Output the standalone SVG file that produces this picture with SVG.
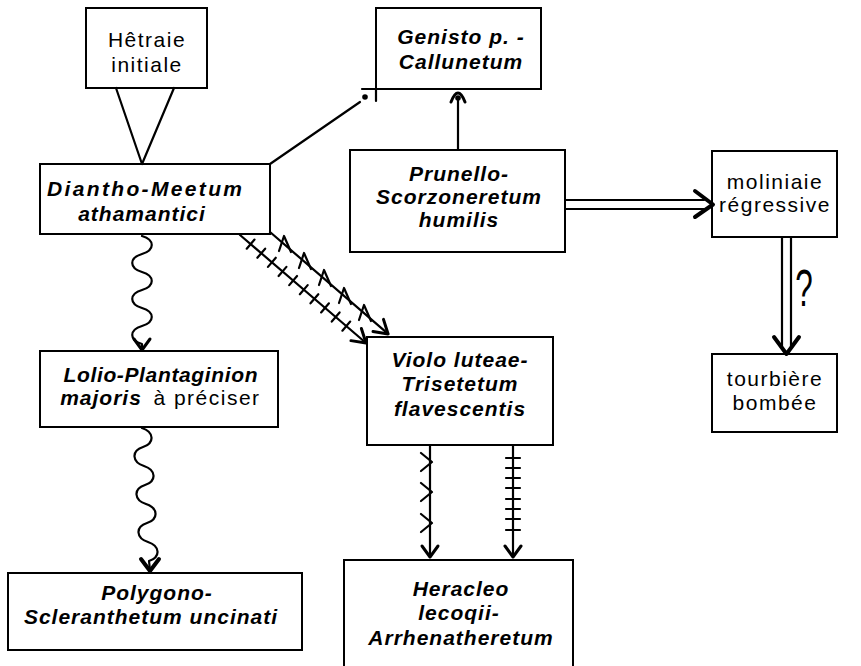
<svg xmlns="http://www.w3.org/2000/svg" width="861" height="666" viewBox="0 0 861 666">
<style>
.box{fill:#fff;stroke:#000;stroke-width:2}
.ln{fill:none;stroke:#000;stroke-width:2.2;stroke-linecap:round;stroke-linejoin:round}
.hd{fill:none;stroke:#000;stroke-width:3;stroke-linecap:round;stroke-linejoin:round}
.hv{fill:none;stroke:#000;stroke-width:4;stroke-linecap:round;stroke-linejoin:round}
.t{font-family:"Liberation Sans",Arial,sans-serif;fill:#000;text-anchor:middle}
.bi{font-size:21px;font-weight:bold;font-style:italic;letter-spacing:1px}
.n{font-size:21px;letter-spacing:1.5px}
</style>
<defs>
<path id="amark" d="M-7,5 L-2,-10 L5,6" class="ln"/>
</defs>
<rect width="861" height="666" fill="#fff"/>

<g id="hetraie">
<rect class="box" x="86" y="8" width="121" height="80"/>
<text class="t n" x="147" y="47">Hêtraie</text>
<text class="t n" x="147" y="72">initiale</text>
</g>

<g id="genisto">
<rect class="box" x="376" y="8" width="165" height="81"/>
<text class="t bi" x="461" y="44">Genisto p. -</text>
<text class="t bi" x="461" y="69">Callunetum</text>
</g>

<g id="diantho">
<rect class="box" x="40" y="164" width="230" height="70"/>
<text class="t bi" x="145" y="196" textLength="196" lengthAdjust="spacing">Diantho-Meetum</text>
<text class="t bi" x="142" y="221">athamantici</text>
</g>

<g id="prunello">
<rect class="box" x="350" y="150" width="215" height="102"/>
<text class="t bi" x="459" y="181">Prunello-</text>
<text class="t bi" x="459" y="204">Scorzoneretum</text>
<text class="t bi" x="459" y="227">humilis</text>
</g>

<g id="moliniaie">
<rect class="box" x="712" y="151" width="125" height="86"/>
<text class="t n" x="775" y="189">moliniaie</text>
<text class="t n" x="775" y="212">régressive</text>
</g>

<g id="lolio">
<rect class="box" x="40" y="351" width="238" height="76"/>
<text class="t bi" x="161" y="382" textLength="195" lengthAdjust="spacing">Lolio-Plantaginion</text>
<text class="t bi" x="101" y="405">majoris</text>
<text class="t n" x="207" y="405">à préciser</text>
</g>

<g id="violo">
<rect class="box" x="367" y="337" width="186" height="108"/>
<text class="t bi" x="460" y="367">Violo luteae-</text>
<text class="t bi" x="460" y="391">Trisetetum</text>
<text class="t bi" x="460" y="416">flavescentis</text>
</g>

<g id="tourbiere">
<rect class="box" x="712" y="354" width="125" height="78"/>
<text class="t n" x="775" y="386">tourbière</text>
<text class="t n" x="775" y="410">bombée</text>
</g>

<g id="polygono">
<rect class="box" x="8" y="573" width="294" height="77"/>
<text class="t bi" x="157" y="600">Polygono-</text>
<text class="t bi" x="151" y="624">Scleranthetum uncinati</text>
</g>

<g id="heracleo">
<rect class="box" x="344" y="560" width="229" height="120"/>
<text class="t bi" x="461" y="596">Heracleo</text>
<text class="t bi" x="459" y="620">lecoqii-</text>
<text class="t bi" x="461" y="645">Arrhenatheretum</text>
</g>

<g id="connectors">
<!-- Hetraie to Diantho -->
<path class="ln" d="M116,88 L142,164 M174,88 L142,164"/>
<!-- Diantho to Genisto -->
<path class="ln" d="M270,164 L360,102"/>
<circle cx="365" cy="97" r="2.8" fill="#000"/>
<path class="ln" d="M362,89 L376,89 M376,89 L376,101"/>
<!-- Prunello to Genisto -->
<path class="ln" d="M458,150 L458,98"/>
<circle cx="458" cy="98" r="2.8" fill="#000"/>
<path class="hd" d="M451,102 Q458,84 465,102"/>
<!-- Prunello to moliniaie -->
<path class="ln" d="M565,200 L704,200 M565,209 L704,209"/>
<path class="hv" d="M695,191 L713,204.5 L695,217"/>
<!-- moliniaie to tourbiere -->
<path class="ln" d="M782,237 L782,346 M791,237 L791,346"/>
<path class="hv" d="M774,337 L786.5,354 L799,337"/>
<text class="t" transform="translate(804,306) scale(0.75,1.25)" style="font-size:42px">?</text>
<!-- Diantho to Lolio (wavy) -->
<path class="ln" d="M142,236 c 13,4 13,14 0,18 s -13,14 0,18 s 13,14 0,18 s -13,14 0,18 s 13,14 0,18 s -13,14 0,18 L142,349"/>
<path class="hd" d="M134,339 L142,350 L150,339"/>
<!-- Lolio to Polygono (wavy) -->
<path class="ln" d="M142,428 c 12,4 13,15 1,19 s -11,15 1,19 s 13,15 1,19 s -11,15 1,19 s 13,15 1,19 s -11,15 1,19 s 13,15 1,19 L150,570"/>
<path class="hv" d="M141,559 L150,571 L159,559"/>
<!-- Diantho to Violo: ticked line -->
<g transform="translate(240,235) rotate(40.6)">
<path class="ln" d="M0,0 L166,0"/>
<path class="ln" d="M14,-6 L14,6 M28,-6 L28,6 M42,-6 L42,6 M56,-6 L56,6 M70,-6 L70,6 M84,-6 L84,6 M98,-6 L98,6 M112,-6 L112,6 M126,-6 L126,6 M140,-6 L140,6"/>
<path class="hd" d="M153,-8 L166,0 L153,8"/>
</g>
<!-- Diantho to Violo: A-marked line -->
<g transform="translate(270,232) rotate(40.8)">
<path class="ln" d="M0,0 L156,0"/>
<path class="hd" d="M143,-8 L156,0 L143,8"/>
</g>
<use href="#amark" x="286" y="246"/>
<use href="#amark" x="306" y="263"/>
<use href="#amark" x="326" y="280"/>
<use href="#amark" x="346" y="298"/>
<use href="#amark" x="366" y="315"/>
<!-- Violo to Heracleo: chevron-marked -->
<path class="ln" d="M430,445 L430,557"/>
<path class="ln" d="M421,453 L432,462 L421,471 M421,483 L432,492 L421,501 M421,514 L432,523 L421,532"/>
<path class="hd" d="M422,546 L430,557 L438,546"/>
<!-- Violo to Heracleo: ticked -->
<path class="ln" d="M513,445 L513,557"/>
<path class="ln" d="M506,458 L520,458 M506,468 L520,468 M506,478 L520,478 M506,488 L520,488 M506,499 L520,499 M506,509 L520,509 M506,519 L520,519 M506,530 L520,530"/>
<path class="hd" d="M505,546 L513,557 L521,546"/>
</g>
</svg>
